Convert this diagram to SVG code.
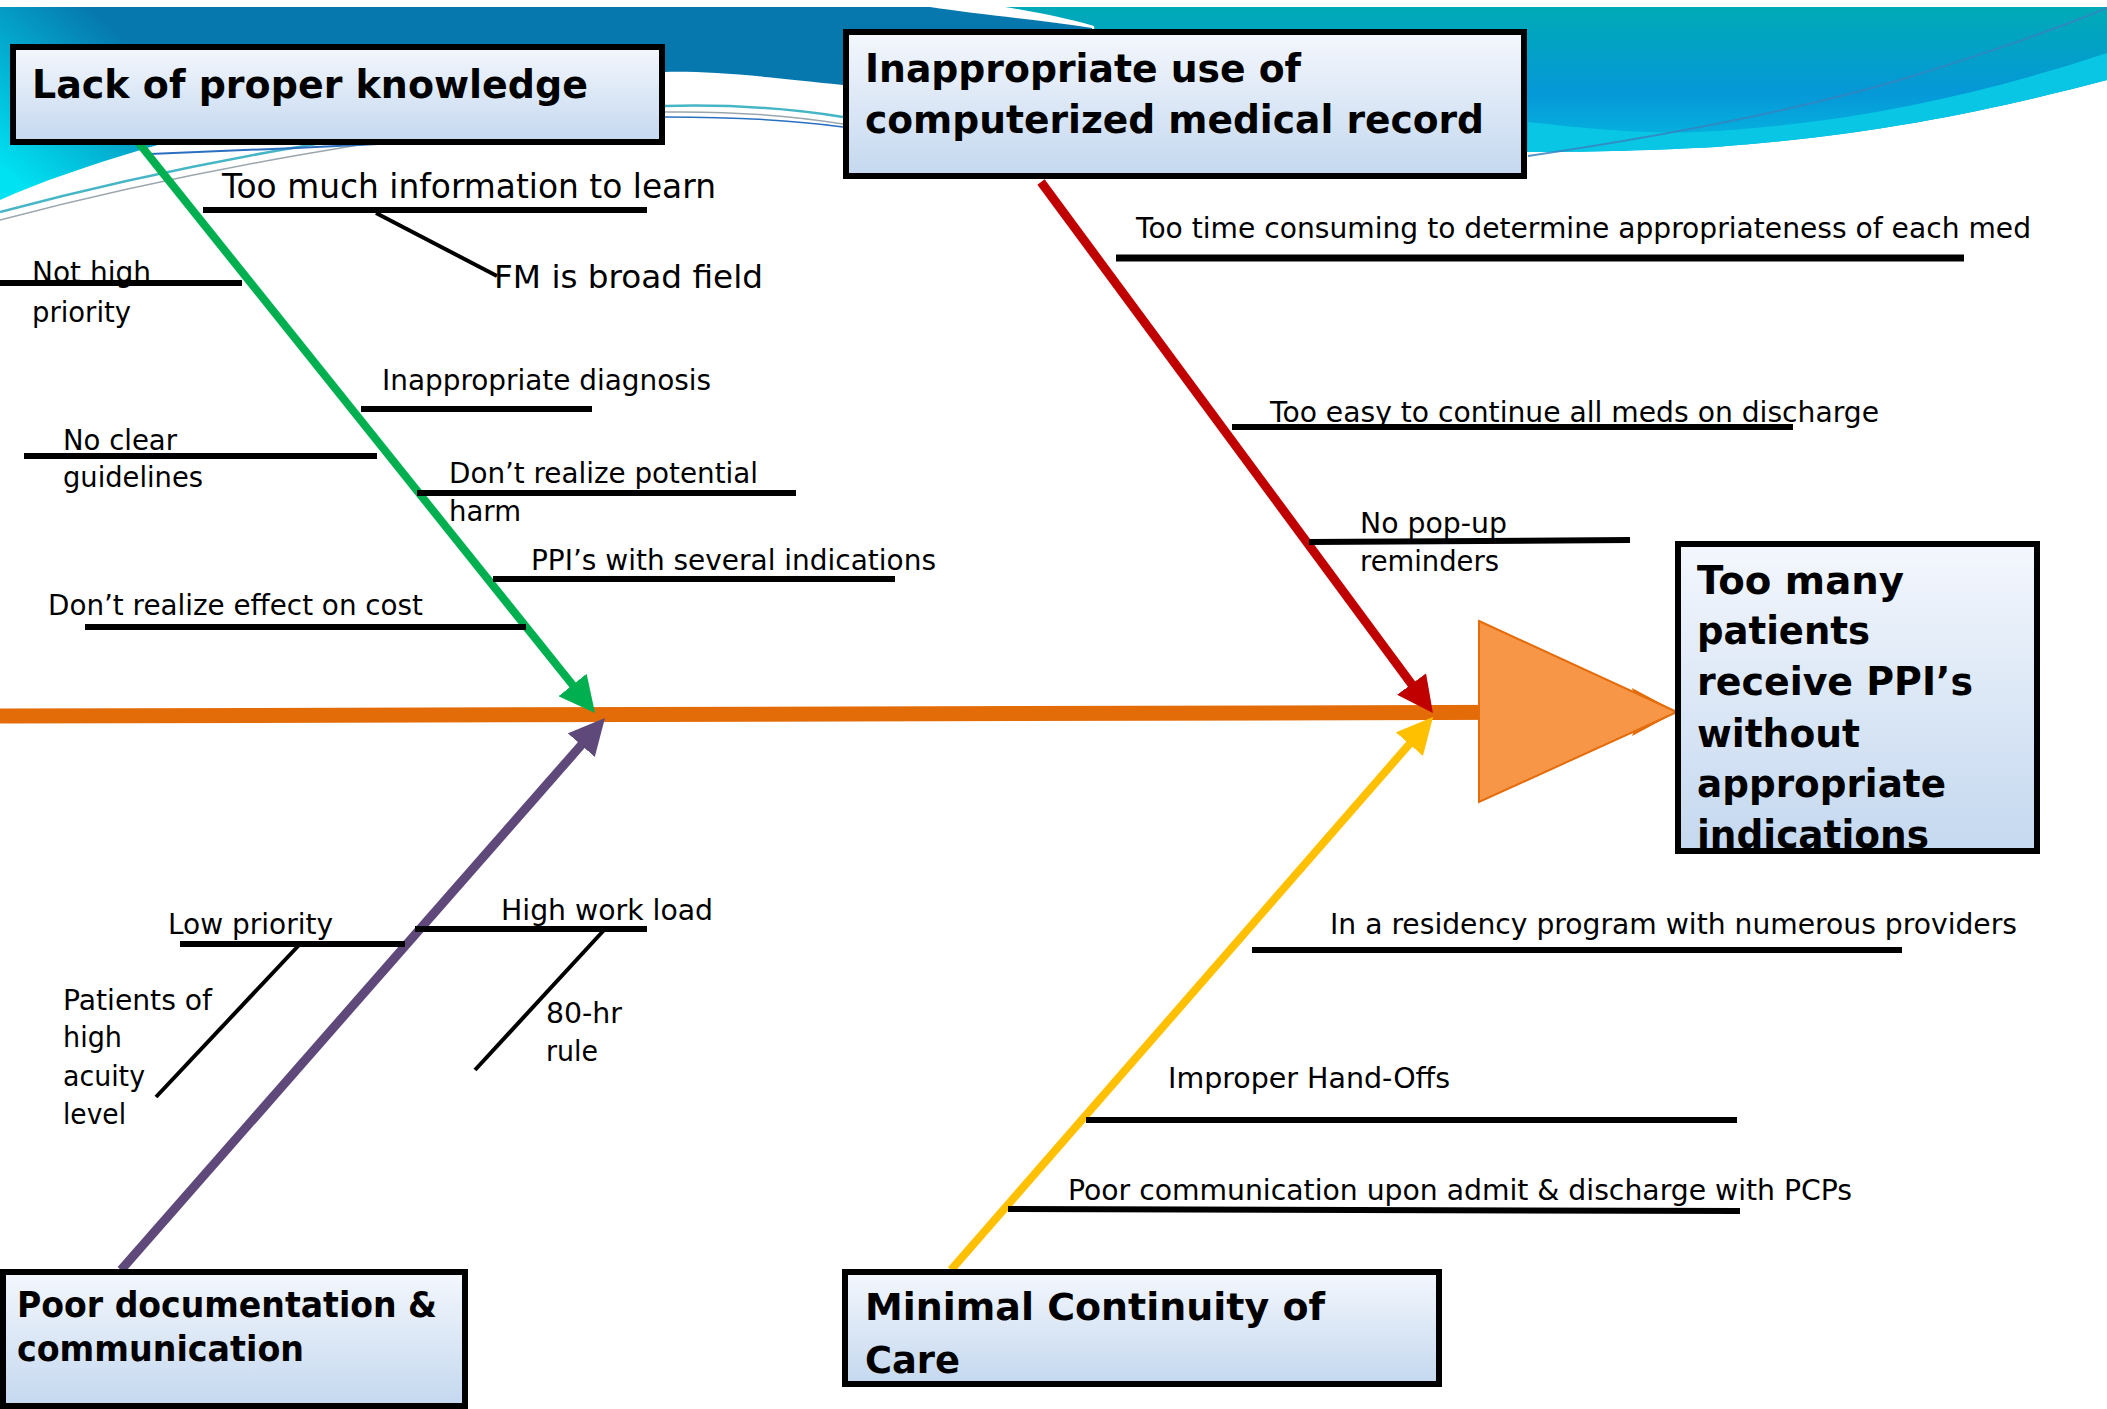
<svg xmlns="http://www.w3.org/2000/svg" width="2107" height="1409" viewBox="0 0 2107 1409">
<style>
.lbl{font-family:"DejaVu Sans","Liberation Sans",sans-serif;font-size:29px;fill:#000}
.big{font-family:"DejaVu Sans","Liberation Sans",sans-serif;font-weight:bold;fill:#000}
.sub{stroke:#000;stroke-width:6;fill:none}
.diag{stroke:#000;stroke-width:4;fill:none}
.box{fill:url(#boxg);stroke:#000;stroke-width:6}
.frame{fill:none;stroke:#000;stroke-width:6}
</style>
<defs>
<linearGradient id="boxg" x1="0" y1="0" x2="0" y2="1">
<stop offset="0" stop-color="#f4f7fd"/>
<stop offset="1" stop-color="#c4d8ef"/>
</linearGradient>
<linearGradient id="wavL" gradientUnits="userSpaceOnUse" x1="150" y1="60" x2="30" y2="195">
<stop offset="0" stop-color="#0678ae"/>
<stop offset="1" stop-color="#00e2f2"/>
</linearGradient>
<linearGradient id="wavR" gradientUnits="userSpaceOnUse" x1="0" y1="7" x2="0" y2="150">
<stop offset="0" stop-color="#00aab6"/>
<stop offset="0.6" stop-color="#0598d8"/>
<stop offset="1" stop-color="#06b8e0"/>
</linearGradient>
<marker id="mGreen" markerUnits="userSpaceOnUse" markerWidth="36" markerHeight="36" viewBox="0 0 36 36" refX="6" refY="18" orient="auto"><path d="M0,0 L36,18 L0,36 z" fill="#00b050"/></marker>
<marker id="mRed" markerUnits="userSpaceOnUse" markerWidth="36" markerHeight="36" viewBox="0 0 36 36" refX="6" refY="18" orient="auto"><path d="M0,0 L36,18 L0,36 z" fill="#c00000"/></marker>
<marker id="mPurple" markerUnits="userSpaceOnUse" markerWidth="36" markerHeight="36" viewBox="0 0 36 36" refX="6" refY="18" orient="auto"><path d="M0,0 L36,18 L0,36 z" fill="#5f497a"/></marker>
<marker id="mYellow" markerUnits="userSpaceOnUse" markerWidth="36" markerHeight="36" viewBox="0 0 36 36" refX="6" refY="18" orient="auto"><path d="M0,0 L36,18 L0,36 z" fill="#ffc000"/></marker>
<marker id="mSpine" markerUnits="userSpaceOnUse" markerWidth="46" markerHeight="48" viewBox="0 0 46 48" refX="8" refY="24" orient="auto"><path d="M0,0 L45,24 L0,48 L8,24 z" fill="#e36c09"/></marker>
</defs>

<g id="background">
<rect x="0" y="0" width="2107" height="1409" fill="#fff"/>
<path d="M0,7 L930,7 C975,14 1040,20 1092,28 L1092,100 L843,85 C760,76 710,71 665,72 C450,82 260,115 147,148 C90,165 40,182 0,200 Z" fill="url(#wavL)"/>
<path d="M1005,7 L2107,7 L2107,80 C2000,108 1880,135 1716,147 C1640,151 1580,152 1528,152 L1100,120 L1094,26 C1062,17 1035,12 1005,7 Z" fill="url(#wavR)"/>
<path d="M1528,122 C1600,130 1650,134 1700,132 C1850,124 1980,95 2107,53 L2107,80 C2000,108 1880,135 1716,147 C1640,151 1580,152 1528,152 Z" fill="#08c6e4"/>
<path d="M1528,156 C1650,138 1790,112 1900,80 C1990,52 2060,28 2107,8" stroke="#3584bf" stroke-width="2" fill="none" opacity="0.85"/>
<path d="M0,212 C150,172 400,118 665,106 C740,104 800,110 843,117" stroke="#46b6c6" stroke-width="2.5" fill="none"/>
<path d="M0,220 C160,178 420,124 665,112 C745,111 800,117 843,124" stroke="#9aa6ae" stroke-width="1.5" fill="none"/>
<path d="M150,154 C250,150 320,147 420,142" stroke="#2a6fc0" stroke-width="2" fill="none"/>
<path d="M665,117 C745,117 800,121 843,127" stroke="#2a70c0" stroke-width="1.5" fill="none"/>
</g>

<g id="connectors">
<line x1="0" y1="716" x2="1640" y2="712" stroke="#e36c09" stroke-width="15" marker-end="url(#mSpine)"/>
<line x1="134" y1="137" x2="576.3" y2="689.6" stroke="#00b050" stroke-width="8" marker-end="url(#mGreen)"/>
<line x1="1041" y1="182" x2="1415.1" y2="688.9" stroke="#c00000" stroke-width="9" marker-end="url(#mRed)"/>
<line x1="121" y1="1270" x2="585.2" y2="740.6" stroke="#5f497a" stroke-width="9" marker-end="url(#mPurple)"/>
<line x1="951" y1="1270" x2="1413.3" y2="739.6" stroke="#ffc000" stroke-width="8" marker-end="url(#mYellow)"/>
<line class="sub" x1="203" y1="210" x2="647" y2="210"/>
<line class="diag" x1="376" y1="213" x2="497" y2="276"/>
<line class="sub" x1="0" y1="283" x2="242" y2="283"/>
<line class="sub" x1="361" y1="409" x2="592" y2="409"/>
<line class="sub" x1="24" y1="456" x2="377" y2="456"/>
<line class="sub" x1="417" y1="493" x2="796" y2="493"/>
<line class="sub" x1="493" y1="579" x2="895" y2="579"/>
<line class="sub" x1="85" y1="627" x2="526" y2="627"/>
<line class="sub" x1="1116" y1="258" x2="1964" y2="258" style="stroke-width:7"/>
<line class="sub" x1="1232" y1="427" x2="1793" y2="427"/>
<line class="sub" x1="1309" y1="542" x2="1630" y2="540"/>
<line class="sub" x1="415" y1="929" x2="647" y2="929"/>
<line class="diag" x1="605" y1="929" x2="475" y2="1070"/>
<line class="sub" x1="180" y1="944" x2="405" y2="944"/>
<line class="diag" x1="300" y1="944" x2="156" y2="1097"/>
<line class="sub" x1="1252" y1="950" x2="1902" y2="950"/>
<line class="sub" x1="1086" y1="1120" x2="1737" y2="1120"/>
<line class="sub" x1="1008" y1="1209" x2="1740" y2="1211"/>
</g>

<g id="effect-arrow">
<polygon points="1479,621 1677,712 1479,802" fill="#f79646" stroke="#e46c0a" stroke-width="2"/>
</g>

<g id="labels">
<text class="lbl" x="222" y="198" style="font-size:33px" textLength="494" lengthAdjust="spacingAndGlyphs">Too much information to learn</text>
<text class="lbl" x="494" y="288" style="font-size:32px" textLength="269" lengthAdjust="spacingAndGlyphs">FM is broad field</text>
<text class="lbl" x="32" y="282" textLength="119" lengthAdjust="spacingAndGlyphs">Not high</text>
<text class="lbl" x="32" y="322" textLength="99" lengthAdjust="spacingAndGlyphs">priority</text>
<text class="lbl" x="382" y="390" textLength="329" lengthAdjust="spacingAndGlyphs">Inappropriate diagnosis</text>
<text class="lbl" x="63" y="450" textLength="114" lengthAdjust="spacingAndGlyphs">No clear</text>
<text class="lbl" x="63" y="487" textLength="140" lengthAdjust="spacingAndGlyphs">guidelines</text>
<text class="lbl" x="449" y="483" textLength="309" lengthAdjust="spacingAndGlyphs">Don’t realize potential</text>
<text class="lbl" x="449" y="521" textLength="72" lengthAdjust="spacingAndGlyphs">harm</text>
<text class="lbl" x="531" y="570" textLength="405" lengthAdjust="spacingAndGlyphs">PPI’s with several indications</text>
<text class="lbl" x="48" y="615" textLength="375" lengthAdjust="spacingAndGlyphs">Don’t realize effect on cost</text>
<text class="lbl" x="1136" y="238" textLength="895" lengthAdjust="spacingAndGlyphs">Too time consuming to determine appropriateness of each med</text>
<text class="lbl" x="1270" y="422" textLength="609" lengthAdjust="spacingAndGlyphs">Too easy to continue all meds on discharge</text>
<text class="lbl" x="1360" y="533" textLength="147" lengthAdjust="spacingAndGlyphs">No pop-up</text>
<text class="lbl" x="1360" y="571" textLength="139" lengthAdjust="spacingAndGlyphs">reminders</text>
<text class="lbl" x="501" y="920" textLength="212" lengthAdjust="spacingAndGlyphs">High work load</text>
<text class="lbl" x="546" y="1023" textLength="76" lengthAdjust="spacingAndGlyphs">80-hr</text>
<text class="lbl" x="546" y="1061" textLength="52" lengthAdjust="spacingAndGlyphs">rule</text>
<text class="lbl" x="168" y="934" textLength="165" lengthAdjust="spacingAndGlyphs">Low priority</text>
<text class="lbl" x="63" y="1010" textLength="149" lengthAdjust="spacingAndGlyphs">Patients of</text>
<text class="lbl" x="63" y="1047" textLength="59" lengthAdjust="spacingAndGlyphs">high</text>
<text class="lbl" x="63" y="1086" textLength="82" lengthAdjust="spacingAndGlyphs">acuity</text>
<text class="lbl" x="63" y="1124" textLength="63" lengthAdjust="spacingAndGlyphs">level</text>
<text class="lbl" x="1330" y="934" textLength="687" lengthAdjust="spacingAndGlyphs">In a residency program with numerous providers</text>
<text class="lbl" x="1168" y="1088" textLength="282" lengthAdjust="spacingAndGlyphs">Improper Hand-Offs</text>
<text class="lbl" x="1068" y="1200" textLength="784" lengthAdjust="spacingAndGlyphs">Poor communication upon admit &amp; discharge with PCPs</text>
</g>

<g id="node-knowledge">
<rect class="box" x="13" y="47" width="649" height="95"/>
<text class="big" x="32" y="98" style="font-size:39px" textLength="556" lengthAdjust="spacingAndGlyphs">Lack of proper knowledge</text>
</g>

<g id="node-emr">
<rect class="box" x="846" y="32" width="678" height="144"/>
<text class="big" x="865" y="82" style="font-size:39px" textLength="436" lengthAdjust="spacingAndGlyphs">Inappropriate use of</text>
<text class="big" x="865" y="133" style="font-size:39px" textLength="619" lengthAdjust="spacingAndGlyphs">computerized medical record</text>
</g>

<g id="node-effect">
<rect class="box" x="1678" y="544" width="359" height="307" stroke="none"/>
<text class="big" style="font-size:39px">
<tspan x="1697" y="594" textLength="207" lengthAdjust="spacingAndGlyphs">Too many</tspan>
<tspan x="1697" y="644" textLength="173" lengthAdjust="spacingAndGlyphs">patients</tspan>
<tspan x="1697" y="695" textLength="276" lengthAdjust="spacingAndGlyphs">receive PPI’s</tspan>
<tspan x="1697" y="747" textLength="163" lengthAdjust="spacingAndGlyphs">without</tspan>
<tspan x="1697" y="797" textLength="249" lengthAdjust="spacingAndGlyphs">appropriate</tspan>
<tspan x="1697" y="848" textLength="232" lengthAdjust="spacingAndGlyphs">indications</tspan>
</text>
<rect class="frame" x="1678" y="544" width="359" height="307"/>
</g>

<g id="node-documentation">
<rect class="box" x="3" y="1272" width="462" height="134"/>
<text class="big" x="17" y="1317" style="font-size:35px" textLength="420" lengthAdjust="spacingAndGlyphs">Poor documentation &amp;</text>
<text class="big" x="17" y="1361" style="font-size:35px" textLength="287" lengthAdjust="spacingAndGlyphs">communication</text>
</g>

<g id="node-continuity">
<rect class="box" x="845" y="1272" width="594" height="112"/>
<text class="big" x="865" y="1320" style="font-size:37px" textLength="460" lengthAdjust="spacingAndGlyphs">Minimal Continuity of</text>
<text class="big" x="865" y="1373" style="font-size:37px" textLength="95" lengthAdjust="spacingAndGlyphs">Care</text>
</g>
</svg>
